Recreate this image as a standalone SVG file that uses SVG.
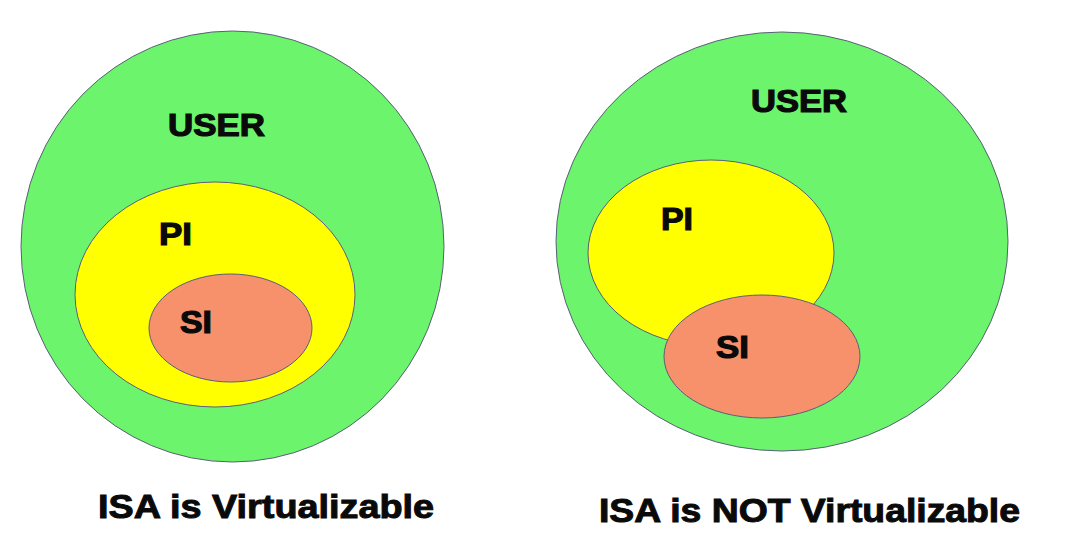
<svg xmlns="http://www.w3.org/2000/svg" width="1072" height="551" viewBox="0 0 1072 551">
<style>
.user{fill:#6cf56c;stroke:#5a5f78;stroke-width:1}
.pi{fill:#ffff00;stroke:#5a5f78;stroke-width:1}
.si{fill:#f7916b;stroke:#5a5f78;stroke-width:1}
.lbl{font-family:"Liberation Sans",Arial,sans-serif;font-weight:bold;font-size:32px;fill:#0a0a0a;stroke:#0a0a0a;stroke-width:1.2}
.cap{font-family:"Liberation Sans",Arial,sans-serif;font-weight:bold;font-size:34px;fill:#0a0a0a;stroke:#0a0a0a;stroke-width:1}
</style>
<rect width="1072" height="551" fill="#ffffff"/>
<g id="left">
<g id="left-user"><ellipse class="user" cx="232.5" cy="246.5" rx="211.5" ry="215.5"/><text class="lbl" x="168" y="136" textLength="97" lengthAdjust="spacingAndGlyphs">USER</text></g>
<g id="left-pi"><ellipse class="pi" cx="215" cy="294.5" rx="140" ry="112.5"/><text class="lbl" x="159" y="245" textLength="33" lengthAdjust="spacingAndGlyphs">PI</text></g>
<g id="left-si"><ellipse class="si" cx="230.5" cy="328" rx="81.5" ry="54"/><text class="lbl" x="180" y="333" textLength="32" lengthAdjust="spacingAndGlyphs">SI</text></g>
<text id="left-caption" class="cap" x="98" y="518" textLength="336" lengthAdjust="spacingAndGlyphs">ISA is Virtualizable</text>
</g>
<g id="right">
<g id="right-user"><ellipse class="user" cx="782" cy="241.5" rx="226" ry="209.5"/><text class="lbl" x="751" y="112" textLength="96" lengthAdjust="spacingAndGlyphs">USER</text></g>
<g id="right-pi"><ellipse class="pi" cx="711" cy="253" rx="123" ry="93"/><text class="lbl" x="661" y="230" textLength="32" lengthAdjust="spacingAndGlyphs">PI</text></g>
<g id="right-si"><ellipse class="si" cx="762" cy="356.5" rx="98" ry="61.5"/><text class="lbl" x="716" y="358" textLength="33" lengthAdjust="spacingAndGlyphs">SI</text></g>
<text id="right-caption" class="cap" x="599" y="522" textLength="421" lengthAdjust="spacingAndGlyphs">ISA is NOT Virtualizable</text>
</g>
<g id="connectors"/>
</svg>
